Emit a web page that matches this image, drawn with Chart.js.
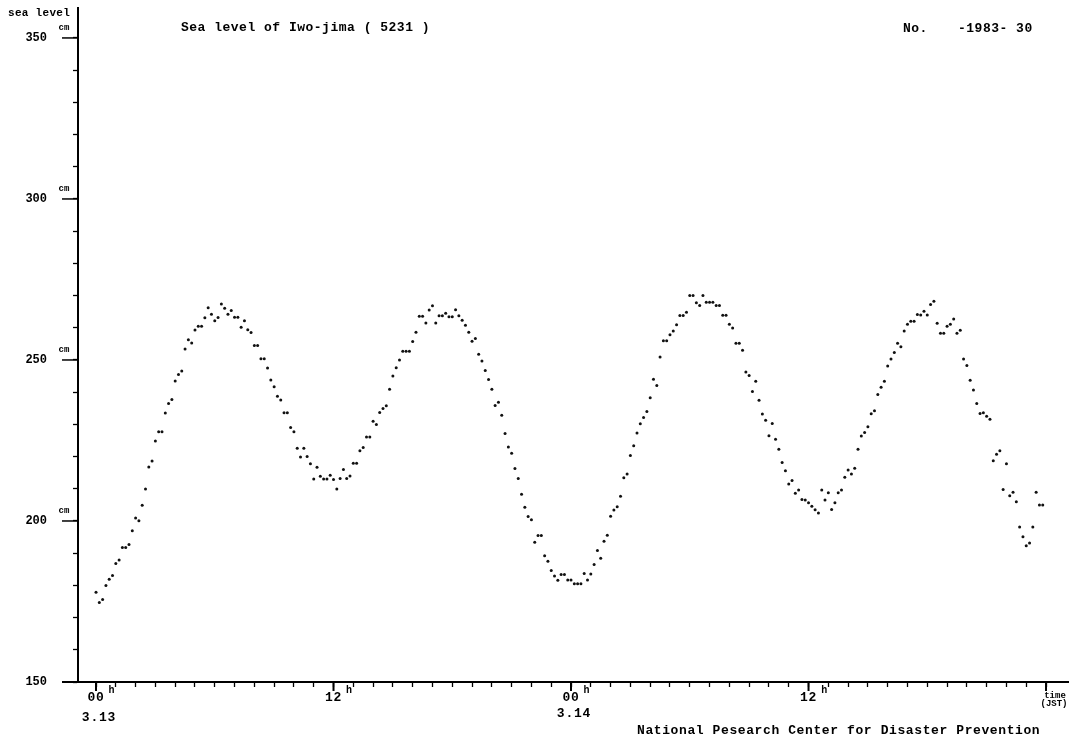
<!DOCTYPE html>
<html>
<head>
<meta charset="utf-8">
<script src="https://cdn.jsdelivr.net/npm/chart.js@4.4.0/dist/chart.umd.min.js"></script>
<style>
  body { margin: 0; background: #fff; }
</style>
</head>
<body>
<canvas id="tideChart" width="1077" height="744"></canvas>
<script>
// readings every 10 minutes from 3.13 00h (JST), in cm
const stepMinutes = 10;
const seaLevel = [
  177.9, 174.7, 175.6, 180.0, 181.9, 183.1, 186.8, 187.9, 191.8, 191.8, 192.7, 197.0,
  200.9, 200.1, 204.9, 209.9, 216.8, 218.6, 224.8, 227.7, 227.7, 233.5, 236.5, 237.7,
  243.5, 245.5, 246.6, 253.4, 256.3, 255.3, 259.3, 260.5, 260.5, 263.1, 266.2, 264.2,
  262.2, 263.2, 267.4, 266.1, 264.2, 265.4, 263.3, 263.3, 260.2, 262.2, 259.4, 258.5,
  254.5, 254.5, 250.4, 250.4, 247.5, 243.8, 241.7, 238.7, 237.6, 233.6, 233.6, 229.0,
  227.7, 222.6, 219.9, 222.6, 220.0, 217.8, 213.0, 216.7, 213.9, 213.0, 213.0, 214.2,
  212.9, 209.9, 213.2, 216.0, 213.2, 214.0, 217.9, 217.9, 221.8, 222.8, 226.1, 226.1,
  231.0, 230.0, 233.7, 234.9, 235.8, 240.9, 245.0, 247.6, 250.0, 252.7, 252.7, 252.7,
  255.7, 258.6, 263.6, 263.6, 261.5, 265.5, 266.8, 261.5, 263.7, 263.7, 264.5, 263.4,
  263.4, 265.6, 263.7, 262.3, 260.8, 258.6, 255.8, 256.7, 251.8, 249.7, 246.7, 243.9,
  240.9, 235.9, 236.9, 232.8, 227.2, 223.0, 221.0, 216.3, 213.2, 208.3, 204.3, 201.4,
  200.4, 193.4, 195.5, 195.5, 189.2, 187.5, 184.6, 182.9, 181.6, 183.4, 183.4, 181.7,
  181.7, 180.5, 180.5, 180.5, 183.7, 181.7, 183.5, 186.5, 190.8, 188.4, 193.7, 195.6,
  201.5, 203.4, 204.4, 207.7, 213.4, 214.6, 220.3, 223.4, 227.3, 230.2, 232.1, 234.0,
  238.3, 244.0, 242.1, 250.9, 256.0, 256.0, 257.8, 259.0, 260.9, 263.8, 263.8, 264.8,
  270.0, 270.0, 267.8, 266.9, 270.0, 267.9, 267.9, 267.9, 266.9, 266.9, 263.9, 263.9,
  261.1, 259.9, 255.2, 255.2, 253.0, 246.3, 245.2, 240.2, 243.4, 237.5, 233.2, 231.3,
  226.5, 230.3, 225.4, 222.3, 218.2, 215.6, 211.5, 212.6, 208.6, 209.6, 206.7, 206.5,
  205.7, 204.6, 203.5, 202.5, 209.6, 206.5, 208.8, 203.6, 205.7, 208.8, 209.6, 213.6,
  215.8, 214.6, 216.4, 222.3, 226.4, 227.5, 229.3, 233.3, 234.2, 239.3, 241.5, 243.4,
  248.1, 250.3, 252.3, 255.2, 254.1, 259.0, 261.1, 262.0, 262.0, 264.1, 264.0, 265.1,
  264.0, 267.2, 268.2, 261.4, 258.3, 258.3, 260.5, 261.1, 262.7, 258.3, 259.2, 250.3,
  248.3, 243.7, 240.7, 236.5, 233.4, 233.6, 232.5, 231.6, 218.7, 220.7, 221.8, 209.8,
  217.8, 207.8, 208.9, 206.0, 198.1, 195.1, 192.3, 193.2, 198.1, 208.9, 205.0, 205.0
];

const hourMarks = [0, 12, 24, 36];
const hourLabels = ['00', '12', '00', '12'];
const dayMarks = [0, 24];
const dayLabels = ['3.13', '3.14'];
const levelMarks = [200, 250, 300, 350];

const points = seaLevel.map((v, i) => ({ x: i * stepMinutes / 60, y: v }));

const mono = "'Liberation Mono', 'DejaVu Sans Mono', monospace";

const paperText = {
  id: 'paperText',
  afterDraw(chart) {
    const { ctx, chartArea, scales } = chart;
    const xs = scales.x, ys = scales.y;
    const base = ys.getPixelForValue(150);
    ctx.save();
    ctx.fillStyle = '#000';
    ctx.strokeStyle = '#000';

    // x axis runs a little past the y axis
    ctx.lineWidth = 2;
    ctx.beginPath();
    ctx.moveTo(62, base);
    ctx.lineTo(chartArea.left, base);
    ctx.stroke();

    // long level ticks with cm marks
    ctx.lineWidth = 1.5;
    ctx.font = 'bold 9px ' + mono;
    ctx.textAlign = 'center';
    ctx.textBaseline = 'middle';
    levelMarks.forEach(v => {
      const y = ys.getPixelForValue(v);
      ctx.beginPath();
      ctx.moveTo(62, y);
      ctx.lineTo(chartArea.left, y);
      ctx.stroke();
      ctx.fillText('cm', 64, y - 10);
    });

    // longer ticks at 00h / 12h and the end of the time axis
    ctx.lineWidth = 2;
    hourMarks.concat([48]).forEach(h => {
      const x = xs.getPixelForValue(h);
      ctx.beginPath();
      ctx.moveTo(x, base);
      ctx.lineTo(x, base + 9);
      ctx.stroke();
    });

    ctx.letterSpacing = '0.8px';
    ctx.font = 'bold 13px ' + mono;
    hourLabels.forEach((t, i) => {
      const x = xs.getPixelForValue(hourMarks[i]);
      ctx.fillText(t, x, 698);
    });
    ctx.font = 'bold 10px ' + mono;
    hourMarks.forEach(h => {
      ctx.fillText('h', xs.getPixelForValue(h) + 16, 690);
    });
    ctx.font = 'bold 13px ' + mono;
    dayLabels.forEach((t, i) => {
      ctx.fillText(t, xs.getPixelForValue(dayMarks[i]) + 3, i === 0 ? 718 : 714);
    });

    ctx.font = 'bold 9px ' + mono;
    ctx.letterSpacing = '0px';
    ctx.fillText('time', 1055, 696);
    ctx.fillText('(JST)', 1054, 704);

    ctx.textAlign = 'left';
    ctx.font = 'bold 11px ' + mono;
    ctx.letterSpacing = '0.3px';
    ctx.fillText('sea level', 8, 13);

    ctx.font = 'bold 13px ' + mono;
    ctx.letterSpacing = '0.5px';
    ctx.fillText('Sea level of Iwo-jima ( 5231 )', 181, 28);
    ctx.fillText('No.', 903, 29);
    ctx.fillText('-1983- 30', 958, 29);
    ctx.letterSpacing = '0.6px';
    ctx.fillText('National Pesearch Center for Disaster Prevention', 637, 731);
    ctx.restore();
  }
};

new Chart(document.getElementById('tideChart'), {
  type: 'scatter',
  data: {
    datasets: [{
      data: points,
      pointRadius: 1.5,
      pointBorderWidth: 0,
      pointBackgroundColor: '#111',
      showLine: false
    }]
  },
  options: {
    responsive: false,
    animation: false,
    layout: { padding: { top: 8, right: 9, left: 0, bottom: 0 } },
    plugins: { legend: { display: false }, tooltip: { enabled: false } },
    scales: {
      x: {
        type: 'linear',
        min: -0.91,
        max: 49.11,
        afterBuildTicks: s => { s.ticks = Array.from({ length: 49 }, (_, h) => ({ value: h })); },
        afterFit: s => { s.height = 62; s.paddingLeft = 0; s.paddingRight = 0; },
        grid: { drawOnChartArea: false, tickLength: 5, color: '#000', tickWidth: 1.3 },
        border: { color: '#000', width: 2 },
        ticks: { autoSkip: false, callback: () => '' }
      },
      y: {
        min: 150,
        max: 359.3,
        afterBuildTicks: s => { s.ticks = Array.from({ length: 21 }, (_, k) => ({ value: 150 + k * 10 })); },
        afterFit: s => { s.width = 78; s.paddingTop = 0; s.paddingBottom = 0; },
        grid: { drawOnChartArea: false, tickLength: 5, color: '#000', tickWidth: 1.3 },
        border: { color: '#000', width: 2 },
        ticks: {
          autoSkip: false,
          padding: 26,
          color: '#000',
          font: { family: mono, size: 12, weight: 'bold' },
          callback: v => (v % 50 === 0 ? String(v) : '')
        }
      }
    }
  },
  plugins: [paperText]
});
</script>
</body>
</html>
